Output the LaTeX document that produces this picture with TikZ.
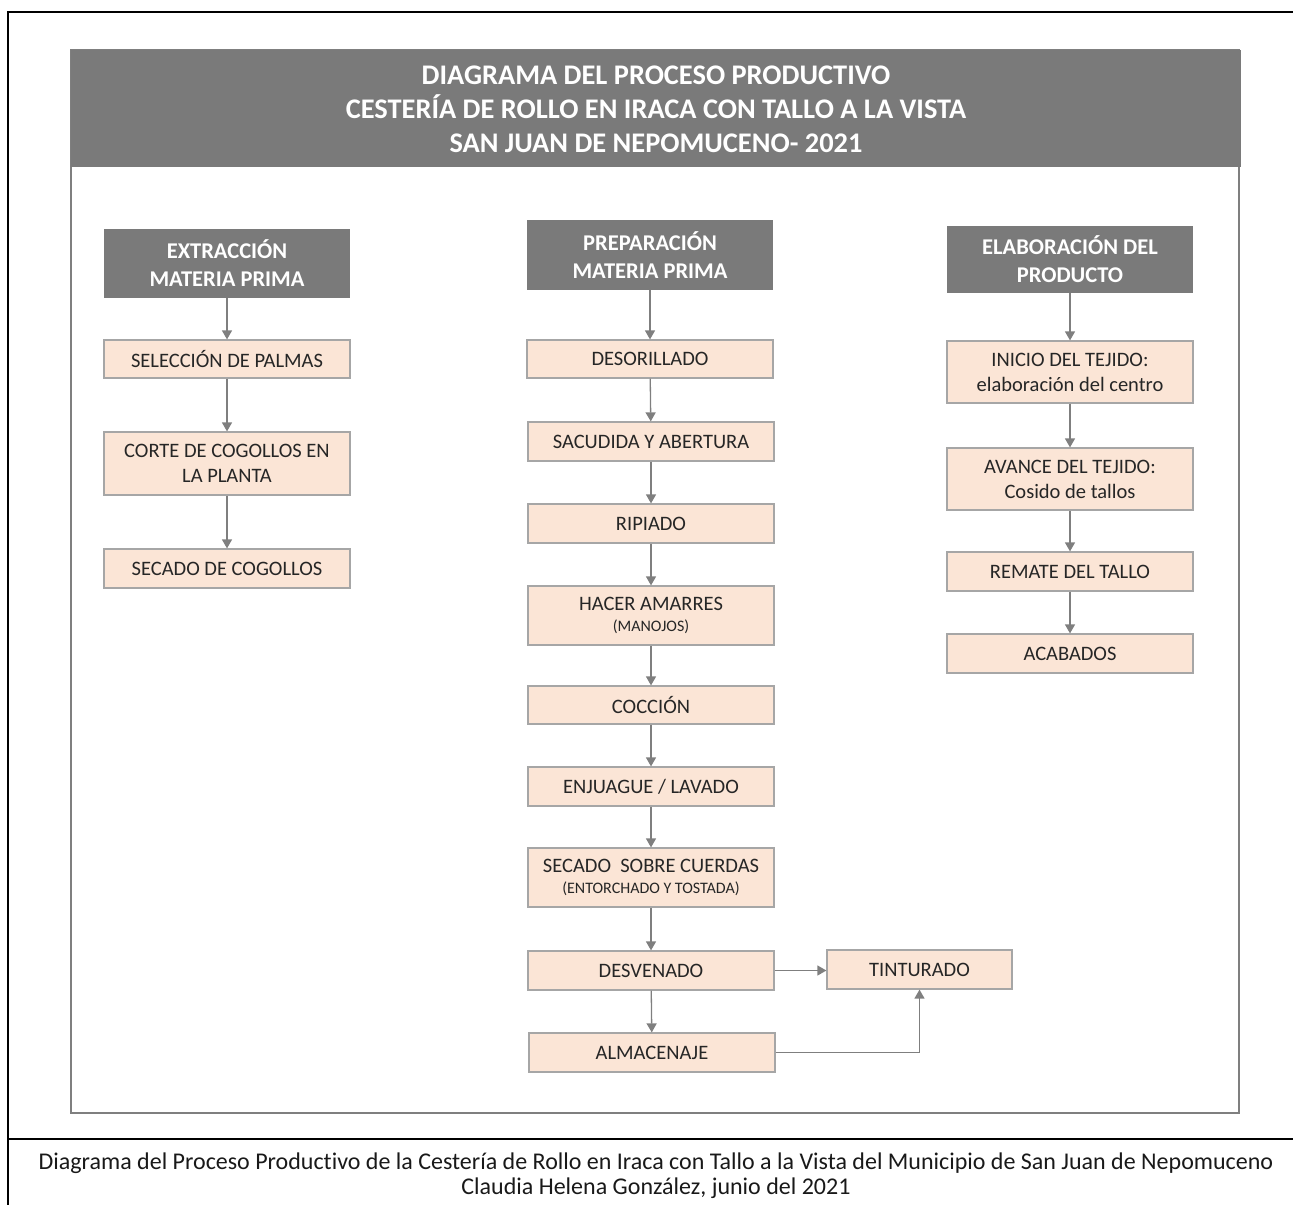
\documentclass[tikz,border=0pt]{standalone}
\usepackage{fontspec}
\setmainfont{Carlito}[Ligatures=NoCommon]
\usepackage{tikz}
\usetikzlibrary{calc,positioning,arrows.meta}
\usepackage{xcolor}
\definecolor{bandgray}{HTML}{7A7A7A}
\definecolor{peach}{HTML}{FBE5D6}
\definecolor{edgegray}{HTML}{A6A6A6}
\definecolor{arrowgray}{HTML}{7F7F7F}

\begin{document}
\begin{tikzpicture}[x=1pt,y=-1pt,
    proc/.style={draw=edgegray, line width=1.2pt, fill=peach, minimum width=246pt,
        align=center, inner sep=0pt, font=\fontsize{20.5}{25}\selectfont, text=black!85},
    head/.style={fill=bandgray, minimum width=246pt, align=center, inner sep=0pt,
        text=white, font=\bfseries\fontsize{22.5}{28}\selectfont},
    flecha/.style={draw=arrowgray, line width=1.3pt, -{Triangle[width=10pt,length=9pt]}}
]
            \useasboundingbox (0,0) rectangle (1293,1205);

            % Outer frame and caption line
            \draw[line width=2.6pt] (1293,12) -- (8,12) -- (8,1205);
            \draw[line width=2.6pt] (8,1139) -- (1293,1139);

            % Inner frame and title band
            \draw[draw=arrowgray, line width=1.2pt] (71,50) rectangle (1239,1113);
            \fill[bandgray] (71,50) rectangle (1241,167);
            \node[text=white, align=center, font=\bfseries\fontsize{28.4}{34}\selectfont] (titulo) at (656,109)
                {DIAGRAMA DEL PROCESO PRODUCTIVO\\CESTERÍA DE ROLLO EN IRACA CON TALLO A LA VISTA\\SAN JUAN DE NEPOMUCENO- 2021};

            % Column 1: extraccion
            \node[head, minimum height=69pt] (h1) at (227,263.5) {EXTRACCIÓN\\MATERIA PRIMA};
            \node[proc, minimum height=38pt] (selpal) at (227,359) {SELECCIÓN DE PALMAS};
            \node[proc, minimum height=63pt] (corte) at (227,463.5) {CORTE DE COGOLLOS EN\\LA PLANTA};
            \node[proc, minimum height=39pt] (secog) at (227,568.5) {SECADO DE COGOLLOS};
            \draw[flecha] (h1) -- (selpal);
            \draw[flecha] (selpal) -- (corte);
            \draw[flecha] (corte) -- (secog);

            % Column 2: preparacion
            \node[head, minimum height=70pt] (h2) at (650,255) {PREPARACIÓN\\MATERIA PRIMA};
            \node[proc, minimum height=38pt] (desor) at (650,359) {DESORILLADO};
            \node[proc, minimum height=39pt] (sacud) at (651,441.5) {SACUDIDA Y ABERTURA};
            \node[proc, minimum height=39pt] (ripia) at (651,523.5) {RIPIADO};
            \node[proc, minimum height=59pt] (amarr) at (651,615.5)
                {HACER AMARRES\\[-4pt]{\fontsize{16}{18}\selectfont (MANOJOS)}};
            \node[proc, minimum height=38pt] (cocci) at (651,705) {COCCIÓN};
            \node[proc, minimum height=39pt] (enjua) at (651,786.5) {ENJUAGUE / LAVADO};
            \node[proc, minimum height=59pt] (secue) at (651,877.5)
                {SECADO\ \ SOBRE CUERDAS\\[-4pt]{\fontsize{16}{18}\selectfont (ENTORCHADO Y TOSTADA)}};
            \node[proc, minimum height=39pt] (desve) at (651,970.5) {DESVENADO};
            \node[proc, minimum height=39pt] (almac) at (652,1052.5) {ALMACENAJE};
            \node[proc, minimum height=39pt, minimum width=185pt] (tintu) at (919.5,969.5) {TINTURADO};
            \draw[flecha] (h2) -- (desor);
            \draw[flecha] (desor) -- (sacud);
            \draw[flecha] (sacud) -- (ripia);
            \draw[flecha] (ripia) -- (amarr);
            \draw[flecha] (amarr) -- (cocci);
            \draw[flecha] (cocci) -- (enjua);
            \draw[flecha] (enjua) -- (secue);
            \draw[flecha] (secue) -- (desve);
            \draw[flecha] (desve) -- (almac);
            \draw[flecha] (desve.east) -- (desve.east -| tintu.west);
            \draw[flecha] (almac.east) -| (tintu.south);

            % Column 3: elaboracion
            \node[head, minimum height=67pt] (h3) at (1070,259.5) {ELABORACIÓN DEL\\PRODUCTO};
            \node[proc, minimum height=62pt] (inici) at (1070,372) {INICIO DEL TEJIDO:\\elaboración del centro};
            \node[proc, minimum height=62pt] (avanc) at (1070,479) {AVANCE DEL TEJIDO:\\Cosido de tallos};
            \node[proc, minimum height=39pt] (remat) at (1070,571.5) {REMATE DEL TALLO};
            \node[proc, minimum height=39pt] (acaba) at (1070,653.5) {ACABADOS};
            \draw[flecha] (h3) -- (inici);
            \draw[flecha] (inici) -- (avanc);
            \draw[flecha] (avanc) -- (remat);
            \draw[flecha] (remat) -- (acaba);

            % Caption
            \node[align=center, font=\fontsize{24}{25}\selectfont, text=black!90] (pie) at (656,1176)
                {Diagrama del Proceso Productivo de la Cestería de Rollo en Iraca con Tallo a la Vista del Municipio de San Juan de Nepomuceno\\Claudia Helena González, junio del 2021};
        \end{tikzpicture}
\end{document}
